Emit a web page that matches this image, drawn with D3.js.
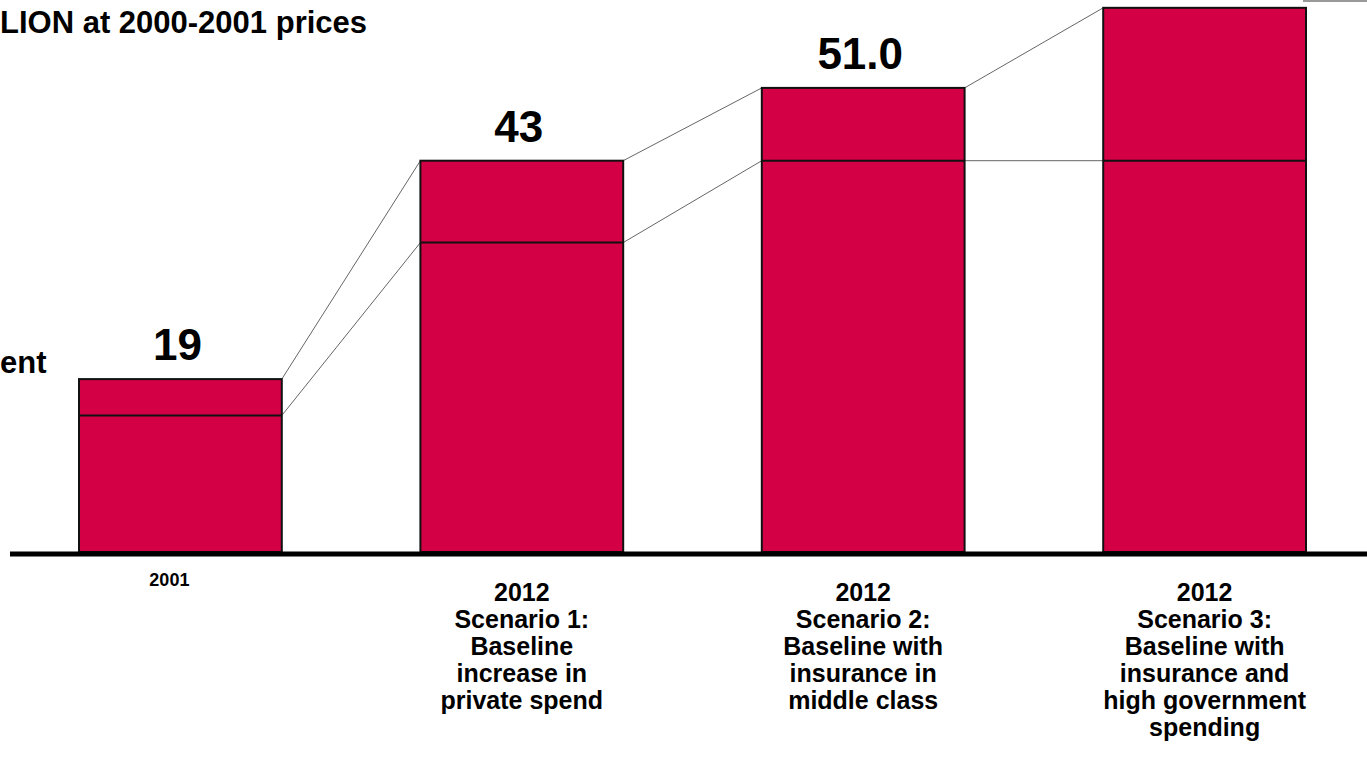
<!DOCTYPE html>
<html><head><meta charset="utf-8">
<script src="https://cdn.jsdelivr.net/npm/d3@7"></script>
<style>
html,body{margin:0;padding:0;background:#fff;overflow:hidden;}
svg{display:block;font-family:"Liberation Sans",Arial,Helvetica,sans-serif;font-weight:bold;}
</style></head>
<body>
<svg id="c" width="1367" height="767"></svg>
<script>
// ---- data ----
const categories = ["2001", "Scenario 1", "Scenario 2", "Scenario 3"];
const lowerValues = [15, 34, 43, 43];
const totalValues = [19, 43, 51, 59.8];
const totalLabels = ["19", "43", "51.0", ""];
const categoryLines = [
  ["2001"],
  ["2012", "Scenario 1:", "Baseline", "increase in", "private spend"],
  ["2012", "Scenario 2:", "Baseline with", "insurance in", "middle class"],
  ["2012", "Scenario 3:", "Baseline with", "insurance and", "high government", "spending"]
];
const titleText = "LION at 2000-2001 prices";
const sideText = "ent";

// ---- layout ----
const svg = d3.select("#c");
const baseY = 552;
const y = d3.scaleLinear().domain([0, 60]).range([baseY, 6]);
const x = d3.scaleBand().domain(categories).range([79, 1306]).paddingInner(0.406).paddingOuter(0);
const fill = "#D40046";

// connectors (drawn first, under bars)
const conn = svg.append("g").attr("stroke", "#666").attr("stroke-width", 1).attr("fill", "none");
for (let i = 0; i < categories.length - 1; i++) {
  const x1 = x(categories[i]) + x.bandwidth(), x2 = x(categories[i + 1]);
  conn.append("line").attr("x1", x1).attr("y1", y(totalValues[i])).attr("x2", x2).attr("y2", y(totalValues[i + 1]));
  conn.append("line").attr("x1", x1).attr("y1", y(lowerValues[i])).attr("x2", x2).attr("y2", y(lowerValues[i + 1]));
}
// trailing connector off the last bar
conn.append("line").attr("stroke", "#999").attr("stroke-width", 2)
  .attr("x1", x(categories[3]) + x.bandwidth() - 3).attr("y1", 1).attr("x2", 1367).attr("y2", 1);

// bars: full bar then inner division line
const g = svg.append("g");
categories.forEach((c, i) => {
  g.append("rect").attr("x", x(c)).attr("y", y(totalValues[i]))
    .attr("width", x.bandwidth()).attr("height", baseY - y(totalValues[i]))
    .attr("fill", fill).attr("stroke", "#111").attr("stroke-width", 2);
  g.append("line").attr("x1", x(c)).attr("x2", x(c) + x.bandwidth())
    .attr("y1", y(lowerValues[i])).attr("y2", y(lowerValues[i]))
    .attr("stroke", "#111").attr("stroke-width", 2);
  if (totalLabels[i]) {
    g.append("text").attr("x", x(c) + x.bandwidth() / 2 - 3).attr("y", y(totalValues[i]) - 19)
      .attr("text-anchor", "middle").attr("font-size", 44).attr("fill", "#000").text(totalLabels[i]);
  }
});

// baseline axis
svg.append("line").attr("x1", 10).attr("x2", 1367).attr("y1", baseY + 2).attr("y2", baseY + 2)
  .attr("stroke", "#000").attr("stroke-width", 5);

// category labels
categories.forEach((c, i) => {
  const cx = x(c) + x.bandwidth() / 2;
  if (i === 0) {
    svg.append("text").attr("x", cx - 11).attr("y", 586).attr("text-anchor", "middle")
      .attr("font-size", 18).text(categoryLines[0][0]);
  } else {
    const t = svg.append("text").attr("text-anchor", "middle").attr("font-size", 25);
    categoryLines[i].forEach((ln, j) => {
      t.append("tspan").attr("x", cx).attr("y", 601 + j * 27).text(ln);
    });
  }
});

// title and side text (cropped in reference)
svg.append("text").attr("x", 0).attr("y", 33).attr("font-size", 31).text(titleText);
svg.append("text").attr("x", 0).attr("y", 373).attr("font-size", 31).text(sideText);
</script>
</body></html>
